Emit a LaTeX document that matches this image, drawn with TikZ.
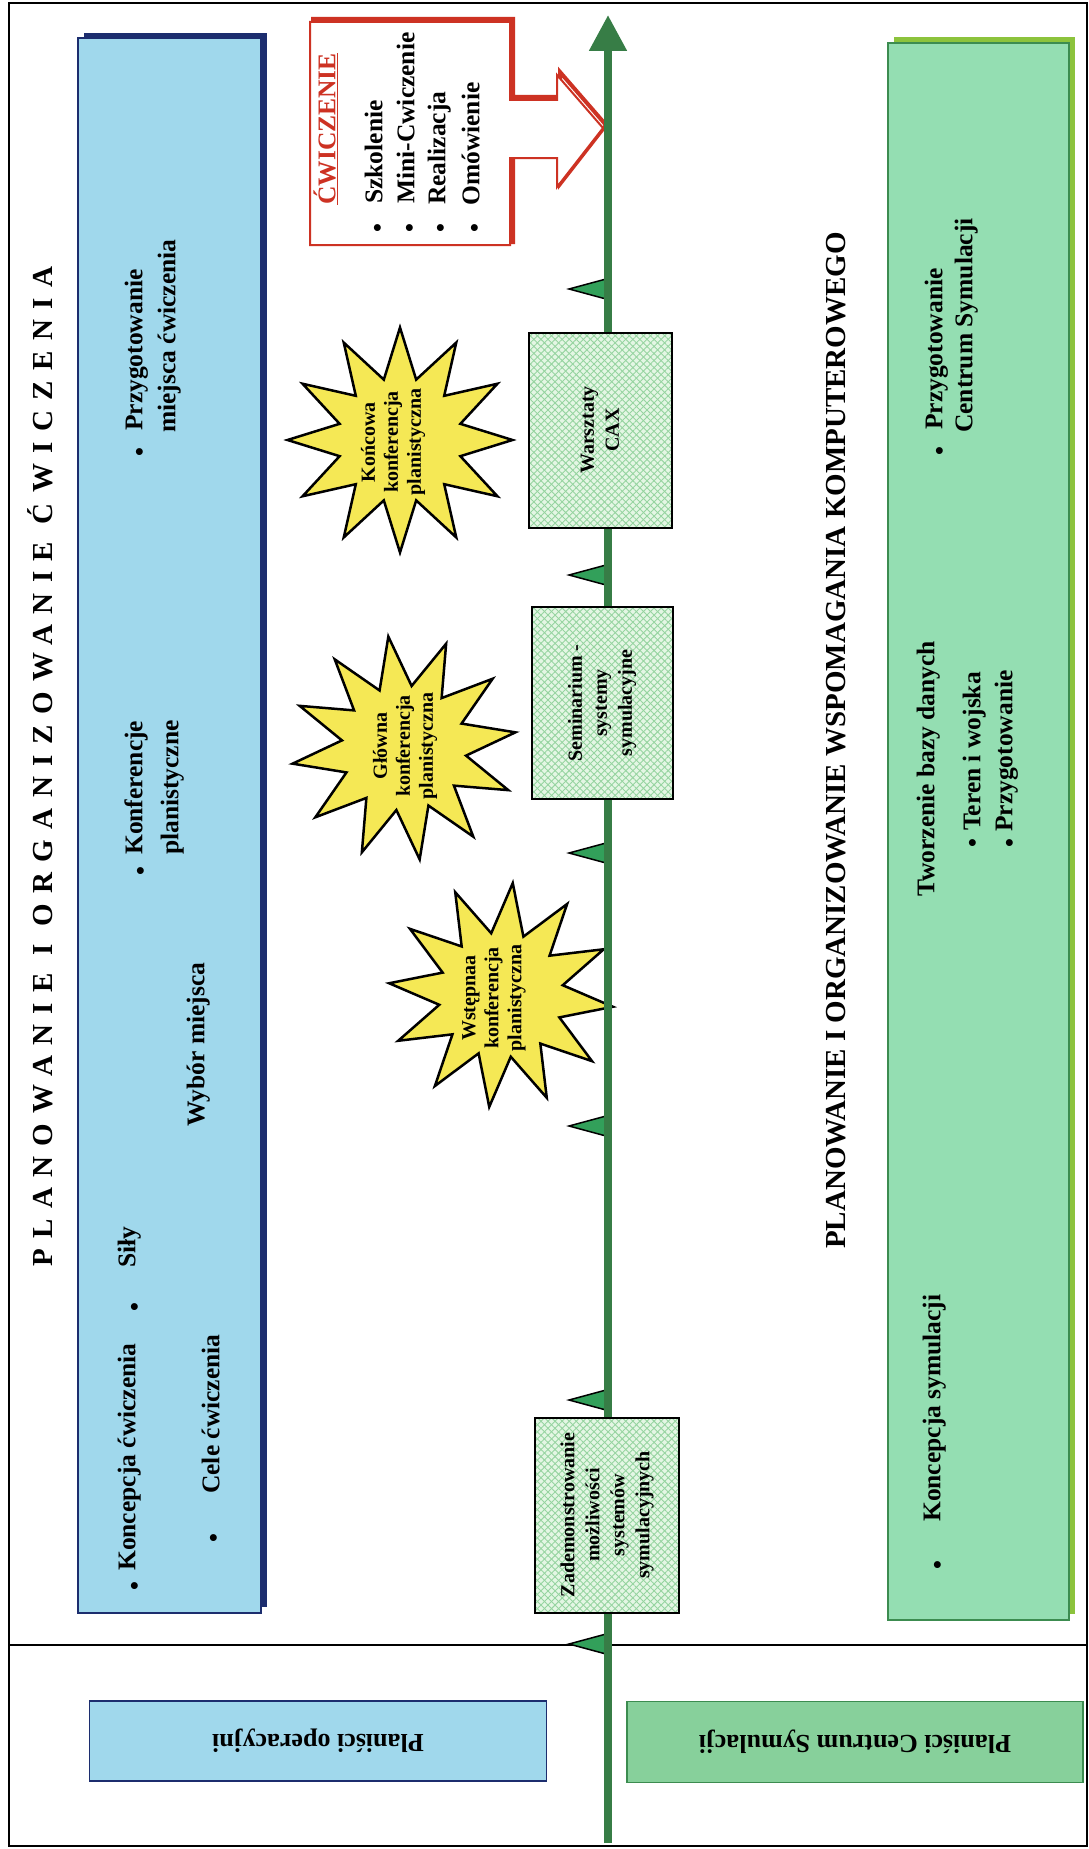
\documentclass[tikz,border=0pt]{standalone}
\usepackage{fontspec}
\setmainfont{Liberation Serif}
\newfontfamily\spacedserif[LetterSpace=36]{Liberation Serif}
\usetikzlibrary{arrows.meta,shapes.geometric,patterns.meta}

\definecolor{tlgreen}{RGB}{55,125,70}
\definecolor{markgreen}{RGB}{50,160,90}
\definecolor{skyfill}{RGB}{160,216,236}
\definecolor{navy}{RGB}{28,45,110}
\definecolor{mintfill}{RGB}{148,222,178}
\definecolor{limeshadow}{RGB}{140,195,60}
\definecolor{greenborder}{RGB}{60,140,80}
\definecolor{botgreen}{RGB}{135,208,155}
\definecolor{hatchbase}{RGB}{228,246,228}
\definecolor{hatchline}{RGB}{150,212,160}
\definecolor{staryellow}{RGB}{245,232,85}
\definecolor{calred}{RGB}{205,50,35}

\newcommand{\fsHead}{\fontsize{29}{35}\selectfont\bfseries}
\newcommand{\fsHeadWide}{\spacedserif\fontsize{29}{35}\selectfont\bfseries}
\newcommand{\fsList}{\fontsize{25.5}{33}\selectfont\bfseries}
\newcommand{\fsBox}{\fontsize{20}{25}\selectfont\bfseries}
\newcommand{\fsStar}{\fontsize{20}{23}\selectfont\bfseries}
\newcommand{\fsBot}{\fontsize{26}{30}\selectfont\bfseries}

\tikzset{
  vtext/.style={rotate=90, inner sep=0pt, anchor=mid west},
  lst/.style={vtext, font=\fsList},
  dot/.style={rotate=90, inner sep=0pt, anchor=center, font=\fsList},
  head/.style={vtext, font=\fsHead},
  hatchbox/.style={rotate=90, draw=black, line width=2pt,
    preaction={fill=hatchbase},
    preaction={pattern={Lines[angle=45,distance=5pt,line width=0.9pt]}, pattern color=hatchline},
    preaction={pattern={Lines[angle=-45,distance=5pt,line width=0.9pt]}, pattern color=hatchline},
    align=center, font=\fsBox, inner sep=2pt},
  burst/.style={star, star points=12, star point ratio=1.8, fill=staryellow,
    draw=black, line width=2.5pt, inner sep=0pt},
  bursttext/.style={rotate=90, align=center, font=\fsStar, inner sep=0pt},
  botbox/.style={rotate=180, line width=1.5pt, font=\fsBot, align=center},
  timeline/.style={draw=tlgreen, line width=8pt,
    -{Triangle[length=36pt,width=36pt]}},
  marker/.style={fill=markgreen, draw=black, line width=1.5pt, line join=miter},
}

\begin{document}
\begin{tikzpicture}[x=1pt,y=-1pt]
  % page and outer frame
  \fill[white] (0,0) rectangle (1089,1849);
  \useasboundingbox (0,0) rectangle (1089,1849);
  \draw[line width=2.5pt] (9,3) rectangle (1087,1846);
  \coordinate (sepL) at (9,1645);
  \coordinate (sepR) at (1087,1645);
  \draw[line width=2.5pt] (sepL) -- (sepR);

  % left band: exercise planning
  \fill[navy] (84,33) rectangle (267,1607);
  \draw[navy, fill=skyfill, line width=1.5pt] (78,38) rectangle (261,1613);

  % right band: computer support planning
  \fill[limeshadow] (894,37) rectangle (1075,1614);
  \draw[greenborder, fill=mintfill, line width=1.5pt] (888,43) rectangle (1069,1620);

  % headings
  \node[vtext, font=\fsHeadWide] (hA) at (50,1267) {PLANOWANIE I ORGANIZOWANIE ĆWICZENIA};
  \node[head] (hB) at (843,1249) {PLANOWANIE I ORGANIZOWANIE WSPOMAGANIA KOMPUTEROWEGO};

  % left band contents
  \node[dot] (d1) at (137,1586) {•};
  \node[lst] (l1) at (133,1571) {Koncepcja ćwiczenia};
  \node[dot] (d2) at (137,1307) {•};
  \node[lst] (l2) at (133,1268) {Siły};
  \node[dot] (d3) at (216,1538) {•};
  \node[lst] (l3) at (217,1494) {Cele ćwiczenia};
  \node[lst] (l4) at (202,1127) {Wybór miejsca};
  \node[dot] (d5) at (143,871) {•};
  \node[lst] (l5a) at (140,855) {Konferencje};
  \node[lst] (l5b) at (176,855) {planistyczne};
  \node[dot] (d6) at (142,452) {•};
  \node[lst] (l6a) at (140,431) {Przygotowanie};
  \node[lst] (l6b) at (173,433) {miejsca ćwiczenia};

  % right band contents
  \node[dot] (r1d) at (942,451) {•};
  \node[lst] (r1a) at (940,430) {Przygotowanie};
  \node[lst] (r1b) at (970,433) {Centrum Symulacji};
  \node[lst] (r2) at (932,897) {Tworzenie bazy danych};
  \node[dot] (r3d) at (975,843) {•};
  \node[lst] (r3) at (978,831) {Teren i wojska};
  \node[dot] (r4d) at (1012,843) {•};
  \node[lst] (r4) at (1010,832) {Przygotowanie};
  \node[dot] (r5d) at (940,1565) {•};
  \node[lst] (r5) at (938,1522) {Koncepcja symulacji};

  % exercise callout pointing at the time axis
  \draw[calred, line width=4pt, line join=miter, shift={(3,-3)}]
    (310,22) -- (510,22) -- (510,100) -- (557,100) -- (557,75) -- (603,128)
    -- (557,187) -- (557,158) -- (510,158) -- (510,245) -- (310,245) -- cycle;
  \draw[calred, fill=white, line width=2pt, line join=miter]
    (310,22) -- (510,22) -- (510,100) -- (557,100) -- (557,75) -- (603,128)
    -- (557,187) -- (557,158) -- (510,158) -- (510,245) -- (310,245) -- cycle;
  \node[lst, text=calred] (cT) at (333,205) {\underline{ĆWICZENIE}};
  \node[dot] (c1d) at (380,228) {•};
  \node[lst] (c1) at (380,204) {Szkolenie};
  \node[dot] (c2d) at (412,228) {•};
  \node[lst] (c2) at (412,204) {Mini-Cwiczenie};
  \node[dot] (c3d) at (443,228) {•};
  \node[lst] (c3) at (443,205) {Realizacja};
  \node[dot] (c4d) at (477,228) {•};
  \node[lst] (c4) at (477,206) {Omówienie};

  % planning conferences
  \node[burst, minimum size=225pt] (sK) at (400,440) {};
  \node[bursttext] (sKt) at (393,442) {Końcowa\\konferencja\\planistyczna};
  \node[burst, minimum size=225pt, rotate=8] (sG) at (404,748) {};
  \node[bursttext] (sGt) at (405,746) {Główna\\konferencja\\planistyczna};
  \node[burst, minimum size=225pt, rotate=-6] (sW) at (501,995) {};
  \node[bursttext] (sWt) at (494,998) {Wstępnaa\\konferencja\\planistyczna};

  % milestones on the time axis
  \foreach \ty in {289,575,853,1126,1400,1644}
    \draw[marker] (606,\ty-10) -- (569,\ty) -- (606,\ty+10) -- cycle;

  % time axis
  \coordinate (tlBot) at (608,1843);
  \coordinate (tlTop) at (608,15);
  \draw[timeline] (tlBot) -- (tlTop);

  % events on the time axis
  \node[hatchbox, minimum width=195pt, minimum height=143pt] (bW) at (600,430) {Warsztaty\\CAX};
  \node[hatchbox, minimum width=192pt, minimum height=141pt] (bS) at (602,703) {Seminarium -\\systemy\\symulacyjne};
  \node[hatchbox, minimum width=195pt, minimum height=144pt] (bZ) at (607,1515) {Zademonstrowanie\\możliwości\\systemów\\symulacyjnych};

  % planner groups
  \node[botbox, fill=skyfill, draw=navy, minimum width=457pt, minimum height=80pt] (pO) at (318,1741) {Planiści operacyjni};
  \node[botbox, fill=botgreen, draw=greenborder, minimum width=456pt, minimum height=81pt] (pC) at (855,1742) {Planiści Centrum Symulacji};
\end{tikzpicture}
\end{document}
